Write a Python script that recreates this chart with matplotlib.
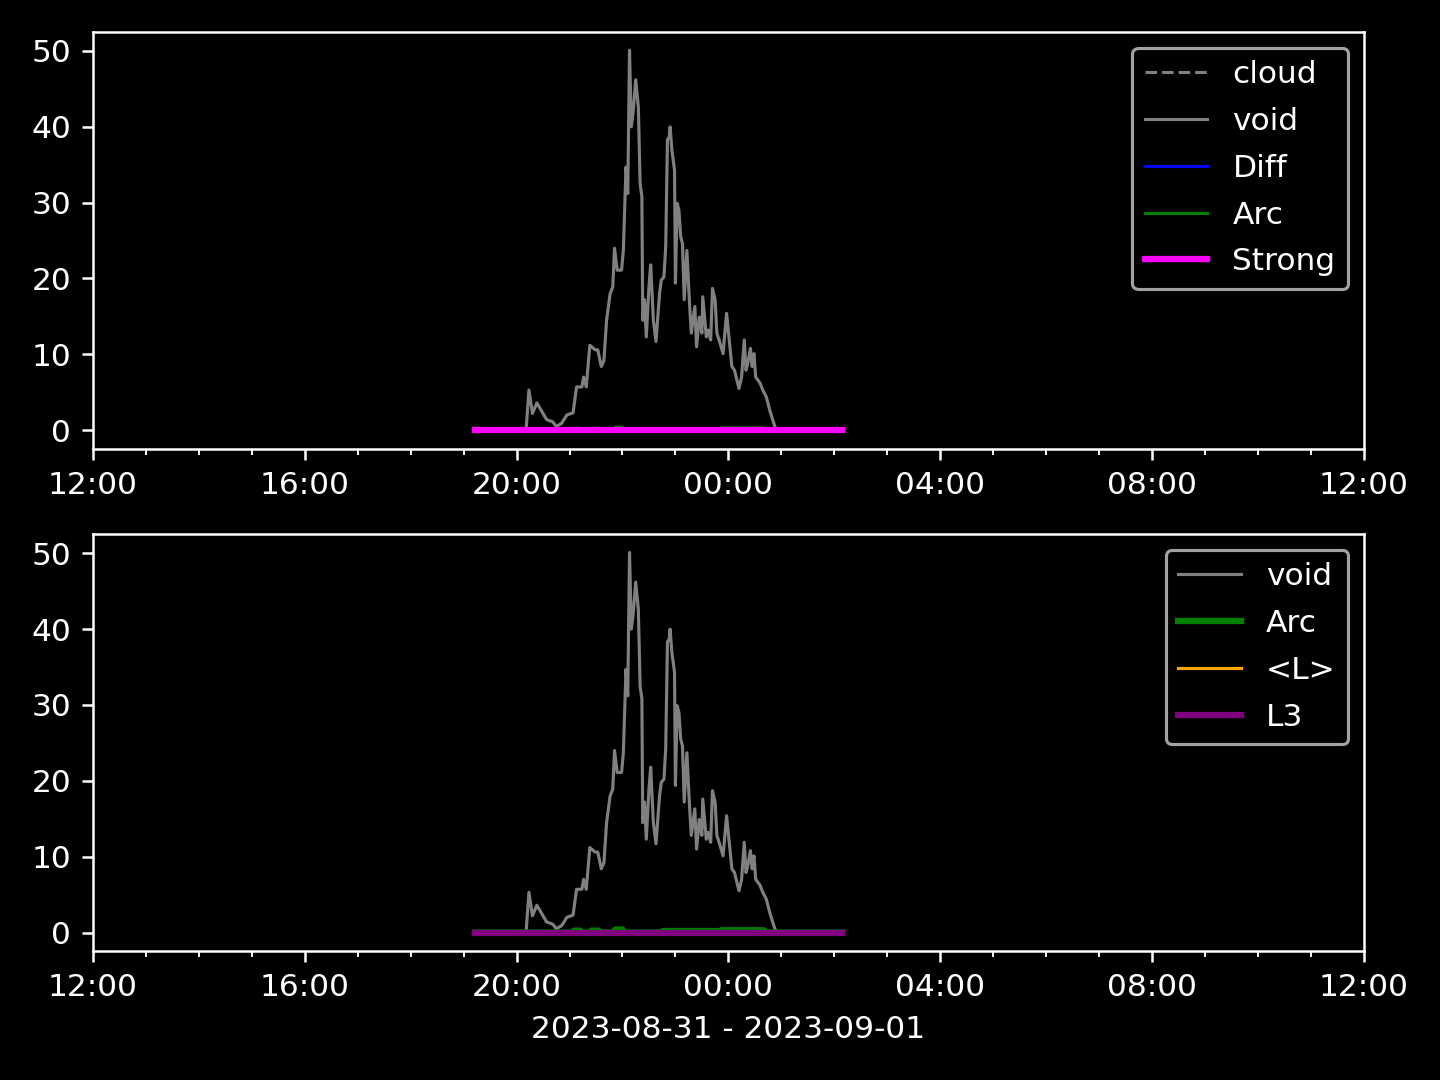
import numpy as np
import pandas as pd
import matplotlib
matplotlib.use("Agg")
import matplotlib.pyplot as plt
import matplotlib.dates as mdates

plt.style.use("dark_background")

# data (times HH:MM, night of 2023-08-31 -> 2023-09-01)
void_t = ["19:13", "20:10", "20:11", "20:14", "20:18", "20:23", "20:28", "20:34", "20:41",
          "20:45", "20:51", "20:57", "21:04", "21:08", "21:14", "21:16", "21:19", "21:23",
          "21:29", "21:32", "21:36", "21:39", "21:42", "21:46", "21:49", "21:51", "21:54",
          "21:59", "22:01", "22:04", "22:06", "22:08", "22:10", "22:12", "22:15", "22:18",
          "22:20", "22:22", "22:23", "22:25", "22:27", "22:30", "22:32", "22:35", "22:38",
          "22:42", "22:44", "22:47", "22:49", "22:51", "22:53", "22:54", "22:56", "22:59",
          "23:00", "23:02", "23:04", "23:06", "23:08", "23:10", "23:13", "23:16", "23:18",
          "23:22", "23:24", "23:27", "23:30", "23:31", "23:35", "23:37", "23:40", "23:42",
          "23:45", "23:47", "23:50", "23:54", "23:58", "00:01", "00:04", "00:07", "00:12",
          "00:15", "00:18", "00:20", "00:22", "00:25", "00:27", "00:29", "00:31", "00:36",
          "00:39", "00:43", "00:47", "00:51", "00:53", "00:55", "02:09"]
void = [0, 0, 0.4, 5.3, 2.2, 3.6, 2.6, 1.4, 1.1,
        0.5, 0.9, 2.0, 2.3, 5.7, 5.7, 7.0, 5.7, 11.2,
        10.6, 10.6, 8.4, 9.2, 14.5, 18.0, 18.9, 24.0, 21.1,
        21.1, 23.7, 34.7, 31.2, 50.1, 40.0, 41.8, 46.2, 42.6,
        32.5, 30.8, 14.5, 17.2, 12.3, 18.9, 21.8, 14.5, 11.7,
        18.0, 19.8, 20.2, 24.2, 38.3, 38.7, 40.0, 36.9, 34.3,
        19.4, 29.9, 29.0, 25.5, 24.6, 17.2, 23.7, 16.7, 12.8,
        16.3, 11.0, 14.9, 12.8, 17.6, 12.3, 13.2, 11.9, 18.7,
        17.2, 12.8, 11.7, 10.1, 15.4, 11.9, 8.4, 7.9, 5.5,
        7.0, 11.9, 7.9, 8.8, 10.8, 8.4, 10.1, 7.0, 6.2,
        5.3, 4.4, 2.6, 1.1, 0.4, 0, 0]

cloud_t = ["19:13", "02:09"]
cloud = [0, 0]

diff_t = ["19:13", "22:00", "22:02", "22:08", "22:10", "02:09"]
diff = [0, 0, 0.15, 0.15, 0, 0]

arc_t = ["19:13", "21:03", "21:05", "21:12", "21:14", "21:23", "21:25", "21:33", "21:35",
         "21:49", "21:52", "22:00", "22:02", "22:44", "22:46", "23:50", "23:52", "00:40",
         "00:42", "02:09"]
arc = [0, 0, 0.25, 0.25, 0, 0, 0.25, 0.25, 0,
       0, 0.4, 0.4, 0, 0, 0.2, 0.2, 0.3, 0.3,
       0, 0]

strong_t = ["19:13", "02:09"]
strong = [0, 0]

meanl_t = ["19:13", "02:09"]
meanl = [0, 0]

l3_t = ["19:13", "02:09"]
l3 = [0, 0]


def to_dt(times):
    out = []
    for s in times:
        day = "2023-08-31" if int(s[:2]) >= 12 else "2023-09-01"
        out.append(pd.Timestamp(day + " " + s))
    return out


fig, (ax1, ax2) = plt.subplots(2, 1, figsize=(6.4, 4.8), dpi=225)
fig.subplots_adjust(left=0.0646, right=0.947, top=0.9704, bottom=0.119, hspace=0.204)

ax1.plot(to_dt(cloud_t), cloud, color="gray", ls="--", lw=1, label="cloud")
ax1.plot(to_dt(void_t), void, color="gray", lw=1, label="void")
ax1.plot(to_dt(diff_t), diff, color="blue", lw=1, label="Diff")
ax1.plot(to_dt(arc_t), arc, color="green", lw=1, label="Arc")
ax1.plot(to_dt(strong_t), strong, color="magenta", lw=2, label="Strong")
ax1.legend(loc="upper right", labelspacing=0.57)

ax2.plot(to_dt(void_t), void, color="gray", lw=1, label="void")
ax2.plot(to_dt(arc_t), arc, color="green", lw=2, label="Arc")
ax2.plot(to_dt(meanl_t), meanl, color="orange", lw=1, label="<L>")
ax2.plot(to_dt(l3_t), l3, color="purple", lw=2, label="L3")
ax2.legend(loc="upper right", labelspacing=0.57)
ax2.set_xlabel("2023-08-31 - 2023-09-01")

for ax in (ax1, ax2):
    ax.set_xlim(pd.Timestamp("2023-08-31 12:00"), pd.Timestamp("2023-09-01 12:00"))
    ax.set_ylim(-2.5, 52.5)
    ax.xaxis.set_major_locator(mdates.HourLocator(byhour=range(0, 24, 4)))
    ax.xaxis.set_minor_locator(mdates.HourLocator())
    ax.xaxis.set_major_formatter(mdates.DateFormatter("%H:%M"))

fig.savefig("out.png")
